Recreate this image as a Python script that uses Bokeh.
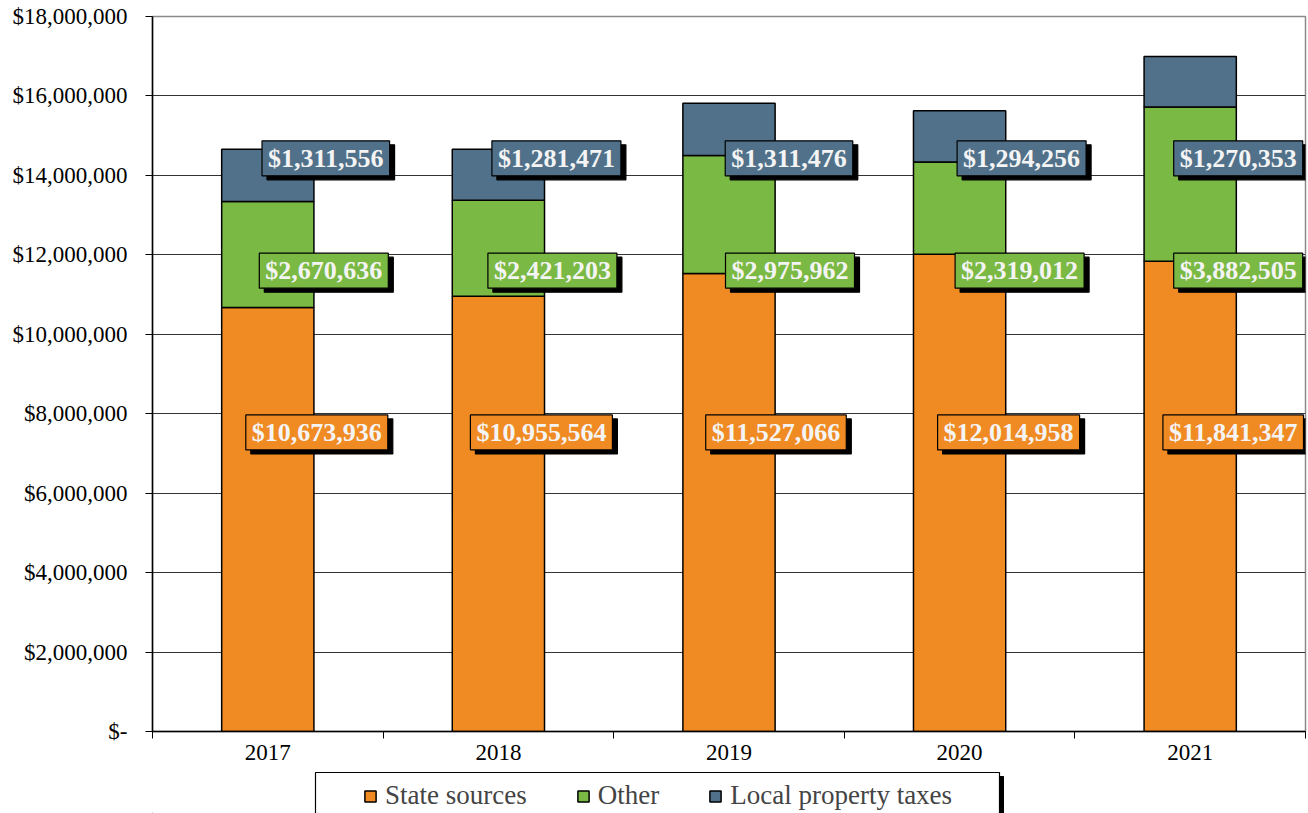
from bokeh.plotting import figure
from bokeh.layouts import column
from bokeh.models import ColumnDataSource, FixedTicker, Legend, LegendItem, Range1d
from bokeh.core.properties import value
from bokeh.embed import file_html
from bokeh.resources import INLINE

years = ["2017", "2018", "2019", "2020", "2021"]
state_sources = [10673936, 10955564, 11527066, 12014958, 11841347]
other = [2670636, 2421203, 2975962, 2319012, 3882505]
local_property_taxes = [1311556, 1281471, 1311476, 1294256, 1270353]
y_ticks = [0, 2000000, 4000000, 6000000, 8000000, 10000000, 12000000, 14000000, 16000000, 18000000]

series = ["state", "other", "local"]
names = ["State sources", "Other", "Local property taxes"]
colors = ["#F08B24", "#7AB943", "#507189"]

# layout constants for the data labels (manually placed in the original)
label_levels = {"state": 7.53e6, "other": 11.6e6, "local": 14.43e6}
label_dx = {"state": [49, 43, 47, 49, 43], "other": [56, 54, 61, 60, 48], "local": [58, 58, 60, 62, 48]}

FONT = value("Liberation Serif")
xs = list(range(len(years)))
src = ColumnDataSource(dict(x=xs, state=state_sources, other=other, local=local_property_taxes))

p = figure(width=1308, height=771, output_backend="svg", toolbar_location=None,
           x_range=Range1d(-0.5, len(years) - 0.5), y_range=Range1d(0, 18000000),
           min_border_left=152, min_border_right=3, min_border_top=16, min_border_bottom=40)
p.outline_line_color = "#8a8a8a"
p.outline_line_width = 1.5

rs = p.vbar_stack(series, x="x", width=0.4, color=colors, source=src,
                  line_color="black", line_width=1.5)

# data labels
for key, vals in zip(series, [state_sources, other, local_property_taxes]):
    col = colors[series.index(key)]
    for i, v in enumerate(vals):
        txt = "${:,}".format(v)
        common = dict(x=[xs[i]], y=[label_levels[key]], text=[txt], text_font=FONT,
                      text_font_style="bold", text_font_size="26px", text_align="center",
                      text_baseline="middle", padding=(6, 3), border_line_width=1.2)
        p.text(x_offset=label_dx[key][i] + 5, y_offset=4, text_color="black",
               background_fill_color="black", border_line_color="black", **common)
        p.text(x_offset=label_dx[key][i], y_offset=0, text_color="#F4F4F4",
               background_fill_color=col, border_line_color="black", **common)

# axes
p.xaxis.ticker = FixedTicker(ticks=xs, minor_ticks=[x - 0.5 for x in xs] + [xs[-1] + 0.5])
p.xaxis.major_label_overrides = {x: y for x, y in zip(xs, years)}
p.xaxis.major_tick_line_color = None
p.xaxis.minor_tick_in = 0
p.xaxis.minor_tick_out = 7
p.xaxis.minor_tick_line_color = "black"
p.xaxis.major_label_standoff = 6
p.xaxis.axis_line_color = "black"
p.xaxis.axis_line_width = 1.5

p.yaxis.ticker = FixedTicker(ticks=y_ticks)
p.yaxis.major_label_overrides = {t: ("$-" if t == 0 else "${:,}".format(t)) for t in y_ticks}
p.yaxis.minor_tick_line_color = None
p.yaxis.major_tick_in = 0
p.yaxis.major_tick_out = 7
p.yaxis.major_label_standoff = 18
p.yaxis.axis_line_color = "black"
p.yaxis.axis_line_width = 1.5

for ax in (p.xaxis, p.yaxis):
    ax.major_label_text_font = "Liberation Serif"
    ax.major_label_text_font_size = "23px"
    ax.major_label_text_color = "black"

p.xgrid.grid_line_color = None
p.ygrid.grid_line_color = "#333333"
p.ygrid.grid_line_width = 1

# legend strip under the chart (x range maps 1:1 to page pixels)
lg = figure(width=1308, height=42, output_backend="svg", toolbar_location=None,
            x_range=Range1d(152, 1305), y_range=Range1d(0, 42),
            min_border_left=152, min_border_right=3, min_border_top=0, min_border_bottom=0)
lg.axis.visible = False
lg.grid.grid_line_color = None
lg.outline_line_color = None
lg.quad(left=[319], right=[1003], top=[37], bottom=[-10], color="black")
lg.quad(left=[315], right=[999], top=[41], bottom=[-10], fill_color="white",
        line_color="black", line_width=1.2)
proxies = [lg.vbar(x=[-1000], top=[0], width=1, fill_color=c, line_color="black", line_width=1.5)
           for c in colors]
legend = Legend(items=[LegendItem(label=n, renderers=[r]) for n, r in zip(names, proxies)],
                orientation="horizontal", location=(363 - 152, 2))
legend.label_text_font = "Liberation Serif"
legend.label_text_font_size = "27px"
legend.glyph_width = 14
legend.glyph_height = 14
legend.label_standoff = 8
legend.spacing = 49
legend.padding = 0
legend.margin = 0
legend.border_line_color = None
legend.background_fill_alpha = 0
lg.add_layout(legend, "center")

layout = column(p, lg, spacing=0)
open("out.html", "w").write(file_html(layout, INLINE))
